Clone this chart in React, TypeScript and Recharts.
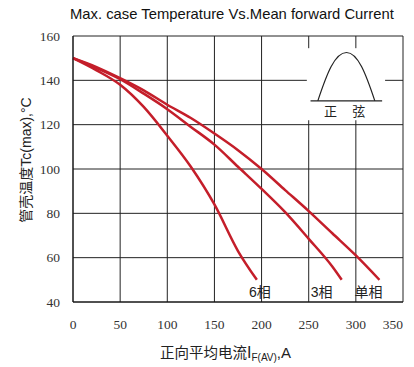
import { LineChart, Line, XAxis, YAxis, CartesianGrid, ReferenceArea, Label } from "recharts";

const title = "Max. case Temperature Vs.Mean forward Current";

const xTicks = [0, 50, 100, 150, 200, 250, 300, 350];
const yTicks = [40, 60, 80, 100, 120, 140, 160];

// 6相
const current6 = [0, 25, 50, 75, 100, 125, 150, 175, 195];
const temp6 = [150, 144.5, 138, 128, 115, 101, 84, 63, 50];
// 3相
const current3 = [0, 25, 50, 75, 100, 125, 150, 175, 200, 225, 250, 275, 285];
const temp3 = [150, 145.5, 140.5, 134, 127, 119, 111, 101, 91, 80.5, 68.5, 56, 50];
// 单相
const current1 = [0, 25, 50, 75, 100, 125, 150, 175, 200, 225, 250, 275, 300, 325];
const temp1 = [150, 146, 141, 135.5, 129, 123, 116, 108.5, 100, 90.5, 81, 71, 61, 50];

const toRows = (xs: number[], ys: number[]) => xs.map((x, i) => ({ i: x, t: ys[i] }));

const series = [
  { name: "6相", data: toRows(current6, temp6), dx: 3 },
  { name: "3相", data: toRows(current3, temp3), dx: -20 },
  { name: "单相", data: toRows(current1, temp1), dx: -11 },
];

const RED = "#c41e2a";
const SERIF = "'Liberation Serif', 'DejaVu Serif', serif";
const SANS = "'Liberation Sans', 'Noto Sans CJK SC', sans-serif";

function XTick({ x, y, payload }: any) {
  const last = payload.value === 350;
  return (
    <text x={last ? x + 1 : x} y={y} dy="0.71em" textAnchor={last ? "end" : "middle"} fill="#333" fontSize={13.5} fontFamily={SERIF}>
      {payload.value}
    </text>
  );
}

function YTick({ x, y, payload }: any) {
  return (
    <text x={x} y={y} dy="0.35em" textAnchor="end" fill="#333" fontSize={13.5} fontFamily={SERIF}>
      {payload.value}
    </text>
  );
}

// small sine-wave inset in the top right corner
function SineInset({ x, y, width, height }: any) {
  const b = y + 52.7;
  return (
    <g>
      <rect x={x} y={y} width={width} height={height} fill="#fff" />
      <line x1={x + 3.7} x2={x + 75.3} y1={b} y2={b} stroke="#222" strokeWidth={1.2} />
      <path
        d={`M ${x + 11} ${b} C ${x + 20} ${b - 27}, ${x + 28} ${y + 4.3}, ${x + 39.7} ${y + 4.3} C ${x + 51} ${y + 4.3}, ${x + 59} ${b - 27}, ${x + 68} ${b}`}
        fill="none"
        stroke="#222"
        strokeWidth={1.2}
      />
      <text x={x + 23.7} y={y + 68} textAnchor="middle" fontSize={13} fill="#222" fontFamily={SANS}>正</text>
      <text x={x + 52} y={y + 68} textAnchor="middle" fontSize={13} fill="#222" fontFamily={SANS}>弦</text>
    </g>
  );
}

function endLabel(name: string, len: number, dx: number) {
  return (props: any) => {
    if (props.index !== len - 1) return null;
    return (
      <text x={props.x + dx} y={props.y + 17} textAnchor="middle" fontSize={14} fill="#222" fontFamily={SANS}>
        {name}
      </text>
    );
  };
}

export default function App() {
  return (
    <div style={{ position: "relative", width: 414, height: 367, background: "#fff" }}>
      <style>{"body{margin:0}"}</style>
      <div
        style={{
          position: "absolute",
          left: 70,
          top: 6,
          fontFamily: SANS,
          fontSize: 14.8,
          lineHeight: "17px",
          color: "#111",
          whiteSpace: "nowrap",
        }}
      >
        {title}
      </div>
      <LineChart width={414} height={367} margin={{ top: 36, right: 11, bottom: 35, left: 13 }}>
        <CartesianGrid stroke="#222" strokeWidth={1} />
        <XAxis
          type="number"
          dataKey="i"
          domain={[0, 350]}
          ticks={xTicks}
          height={30}
          tickLine={false}
          tickSize={0}
          tickMargin={17}
          axisLine={{ stroke: "#111" }}
          tick={<XTick />}
        >
          <Label
            content={() => (
              <text x={160} y={358} fill="#222" fontFamily={SANS}>
                <tspan fontSize={14.5}>正向平均电流</tspan>
                <tspan fontSize={16}>I</tspan>
                <tspan fontSize={10} dy={3}>F(AV)</tspan>
                <tspan fontSize={15} dy={-3}>,A</tspan>
              </text>
            )}
          />
        </XAxis>
        <YAxis
          type="number"
          domain={[40, 160]}
          ticks={yTicks}
          width={60}
          tickLine={false}
          tickSize={0}
          tickMargin={13}
          axisLine={{ stroke: "#111" }}
          tick={<YTick />}
        >
          <Label
            content={() => (
              <text x={26} y={160} transform="rotate(-90, 26, 160)" textAnchor="middle" dominantBaseline="central" fontSize={14} fill="#222" fontFamily={SANS}>
                管壳温度Tc(max),°C
              </text>
            )}
          />
        </YAxis>
        <ReferenceArea x1={248} x2={331} y1={122} y2={154.5} shape={<SineInset />} ifOverflow="visible" />
        {series.map((s) => (
          <Line
            key={s.name}
            data={s.data}
            dataKey="t"
            name={s.name}
            type="monotone"
            stroke={RED}
            strokeWidth={2.5}
            dot={false}
            label={endLabel(s.name, s.data.length, s.dx)}
            isAnimationActive={false}
          />
        ))}
      </LineChart>
    </div>
  );
}
